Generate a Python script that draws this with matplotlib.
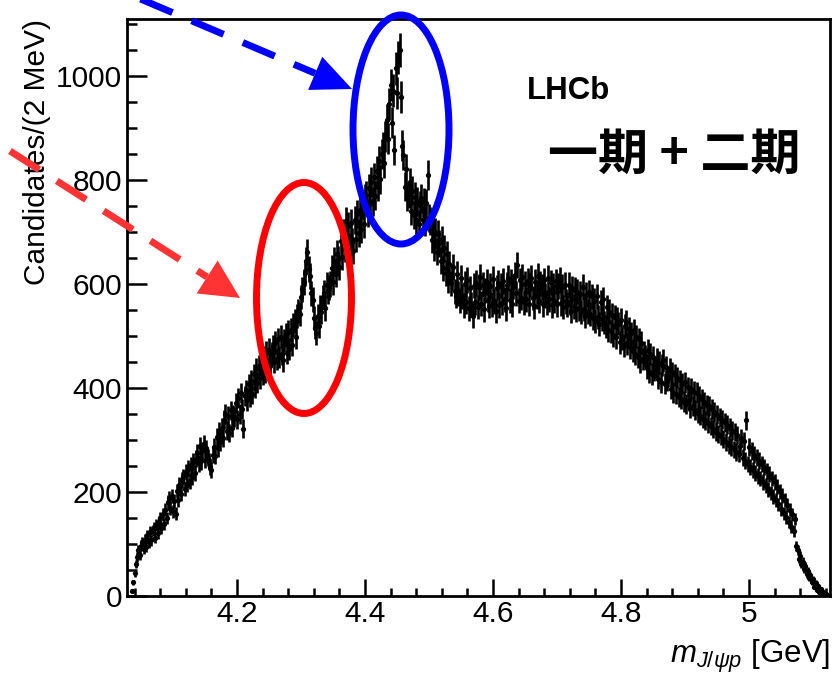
import numpy as np
import matplotlib
matplotlib.use("Agg")
import matplotlib.pyplot as plt
from matplotlib.ticker import MultipleLocator, FuncFormatter
from matplotlib.patches import Ellipse, Polygon

plt.rcParams['font.family'] = ['Liberation Sans', 'DejaVu Sans']
plt.rcParams['mathtext.fontset'] = 'custom'
plt.rcParams['mathtext.rm'] = 'Liberation Sans'
plt.rcParams['mathtext.it'] = 'Liberation Sans:italic'
plt.rcParams['mathtext.bf'] = 'Liberation Sans:bold'

# J/psi p invariant mass, 2 MeV bins starting at threshold
bin_lo = 4.035
bin_w = 0.002
counts = [
    10, 26, 44, 62, 75, 88, 79, 97, 103, 90,
    108, 95, 117, 103, 124, 107, 126, 131, 112, 137,
    121, 142, 150, 130, 157, 139, 166, 150, 181, 188,
    168, 192, 163, 183, 158, 202, 185, 214, 197, 223,
    230, 206, 238, 214, 245, 221, 251, 229, 258, 236,
    264, 275, 255, 288, 259, 280, 292, 262, 284, 266,
    258, 249, 243, 272, 287, 270, 305, 284, 316, 296,
    324, 303, 339, 350, 318, 346, 313, 357, 323, 349,
    344, 372, 340, 381, 350, 390, 359, 322, 385, 396,
    376, 407, 383, 414, 389, 426, 400, 437, 410, 443,
    419, 452, 426, 460, 431, 468, 437, 474, 442, 466,
    480, 450, 487, 455, 494, 459, 499, 465, 453, 491,
    502, 468, 508, 475, 512, 483, 521, 528, 498, 539,
    548, 542, 575, 590, 604, 622, 645, 661, 628, 615,
    582, 570, 534, 516, 506, 538, 519, 556, 547, 575,
    583, 553, 598, 586, 593, 600, 631, 603, 645, 619,
    658, 648, 632, 683, 652, 698, 668, 722, 684, 711,
    673, 717, 681, 664, 723, 687, 735, 698, 742, 706,
    753, 716, 765, 771, 736, 784, 754, 796, 759, 805,
    770, 818, 787, 837, 801, 850, 862, 832, 884, 915,
    879, 946, 983, 910, 972, 858, 1015, 967, 1036, 1050,
    960, 866, 848, 787, 822, 768, 773, 795, 741, 779,
    732, 768, 724, 759, 716, 751, 765, 723, 758, 719,
    755, 810, 726, 722, 685, 714, 671, 700, 662, 696,
    678, 645, 686, 631, 669, 622, 657, 608, 639, 601,
    614, 632, 586, 577, 619, 582, 568, 611, 575, 559,
    600, 566, 608, 553, 592, 561, 538, 597, 565, 602,
    556, 594, 613, 562, 599, 551, 587, 604, 570, 558,
    596, 561, 609, 567, 548, 593, 602, 559, 597, 564,
    606, 571, 553, 598, 612, 569, 604, 561, 595, 618,
    582, 636, 568, 607, 574, 613, 565, 600, 571, 606,
    562, 599, 611, 573, 557, 604, 576, 615, 568, 601,
    594, 561, 607, 578, 565, 612, 571, 603, 559, 597,
    568, 605, 561, 596, 608, 563, 594, 556, 599, 567,
    560, 598, 565, 549, 592, 557, 589, 551, 585, 553,
    581, 546, 594, 552, 538, 579, 547, 584, 542, 576,
    534, 568, 529, 576, 537, 523, 565, 532, 571, 526,
    518, 555, 511, 547, 509, 541, 502, 537, 498, 532,
    524, 488, 530, 495, 481, 519, 527, 486, 513, 478,
    505, 472, 511, 466, 499, 460, 494, 451, 487, 456,
    468, 462, 439, 473, 431, 465, 427, 460, 434, 441,
    456, 418, 449, 411, 445, 453, 408, 440, 414, 422,
    437, 398, 430, 391, 425, 388, 420, 383, 415, 379,
    408, 374, 411, 369, 402, 376, 361, 399, 366, 393,
    358, 391, 352, 384, 347, 379, 341, 373, 338, 368,
    332, 366, 327, 359, 321, 354, 316, 349, 312, 343,
    308, 339, 302, 334, 297, 329, 291, 324, 286, 318,
    282, 315, 277, 309, 274, 288, 304, 266, 298, 260,
    338, 254, 286, 248, 279, 243, 272, 237, 266, 231,
    260, 226, 254, 219, 248, 212, 241, 205, 234, 198,
    226, 191, 219, 184, 210, 176, 201, 167, 193, 159,
    184, 151, 175, 142, 166, 133, 157, 125, 148, 96,
    88, 72, 77, 61, 66, 51, 57, 42, 48, 34,
    40, 26, 32, 18, 25, 12, 19, 7, 13, 4,
    8, 2, 4, 1, 0,
]

counts = np.array(counts, dtype=float)
mass = bin_lo + bin_w * (np.arange(len(counts)) + 0.5)
err = np.sqrt(counts)

W, H = 832, 678
fig = plt.figure(figsize=(W / 100, H / 100), dpi=100)
ax = fig.add_axes([127 / W, 1 - 596 / H, 703 / W, 577 / H])

ax.errorbar(mass, counts, yerr=err, xerr=bin_w / 2, fmt='o', ms=3.8,
            color='black', mew=0, elinewidth=1.9, capsize=0)

ax.set_xlim(4.0281, 5.1266)
ax.set_ylim(0, 1109.6)

ax.xaxis.set_major_locator(MultipleLocator(0.2))
ax.xaxis.set_minor_locator(MultipleLocator(0.04))
ax.yaxis.set_major_locator(MultipleLocator(200))
ax.yaxis.set_minor_locator(MultipleLocator(50))
ax.xaxis.set_major_formatter(FuncFormatter(lambda v, p: '%g' % round(v, 2)))

ax.tick_params(axis='x', which='major', direction='in', length=12.2, width=1.8,
               labelsize=21.5, pad=3)
ax.tick_params(axis='x', which='minor', direction='in', length=6.1, width=1.8)
ax.tick_params(axis='y', which='major', direction='in', length=14.4, width=1.8,
               labelsize=21.5, pad=3.5)
ax.tick_params(axis='y', which='minor', direction='in', length=7.2, width=1.8)
for s in ax.spines.values():
    s.set_linewidth(2)

ax.set_ylabel('Candidates/(2 MeV)', fontsize=21.5, loc='top', va='center')
ax.yaxis.set_label_coords(-0.128, 1.0)
ax.set_xlabel(r'$m_{J/\psi p}$ [GeV]', fontsize=22.5, loc='right')
ax.xaxis.set_label_coords(1.0, -0.072)

fig.text(527 / W, 1 - 91 / H, 'LHCb', fontsize=22.5, fontweight='bold',
         ha='left', va='center')
fig.text(548 / W, 1 - 155 / H, '一期 + 二期', family=['Noto Sans CJK SC', 'DejaVu Sans'],
         fontsize=36, fontweight='semibold', ha='left', va='center')

# annotation overlay in pixel coordinates
ov = fig.add_axes([0, 0, 1, 1], facecolor='none')
ov.set_xlim(0, W)
ov.set_ylim(H, 0)
ov.axis('off')

ov.add_patch(Ellipse((401, 129.5), 96, 229, fill=False, ec='#0000ff', lw=5))
ov.add_patch(Ellipse((304, 298), 95, 231, fill=False, ec='#ff0000', lw=5))


def dashed_arrow(start, tip, color, head_len, head_half):
    d = np.array(tip, float) - np.array(start, float)
    d /= np.hypot(*d)
    perp = np.array([-d[1], d[0]])
    base = np.array(tip) - d * head_len
    ov.plot([start[0], base[0]], [start[1], base[1]], color=color, lw=5,
            dashes=(5, 3), solid_capstyle='butt', dash_capstyle='butt')
    ov.add_patch(Polygon([tip, base + perp * head_half, base - perp * head_half],
                         closed=True, fc=color, ec='none'))


dashed_arrow((110, -14), (352, 89), '#0000ff', 40, 18)
dashed_arrow((10, 151), (240, 298), '#ff3333', 39, 19.5)

fig.savefig('out.png', dpi=100)
